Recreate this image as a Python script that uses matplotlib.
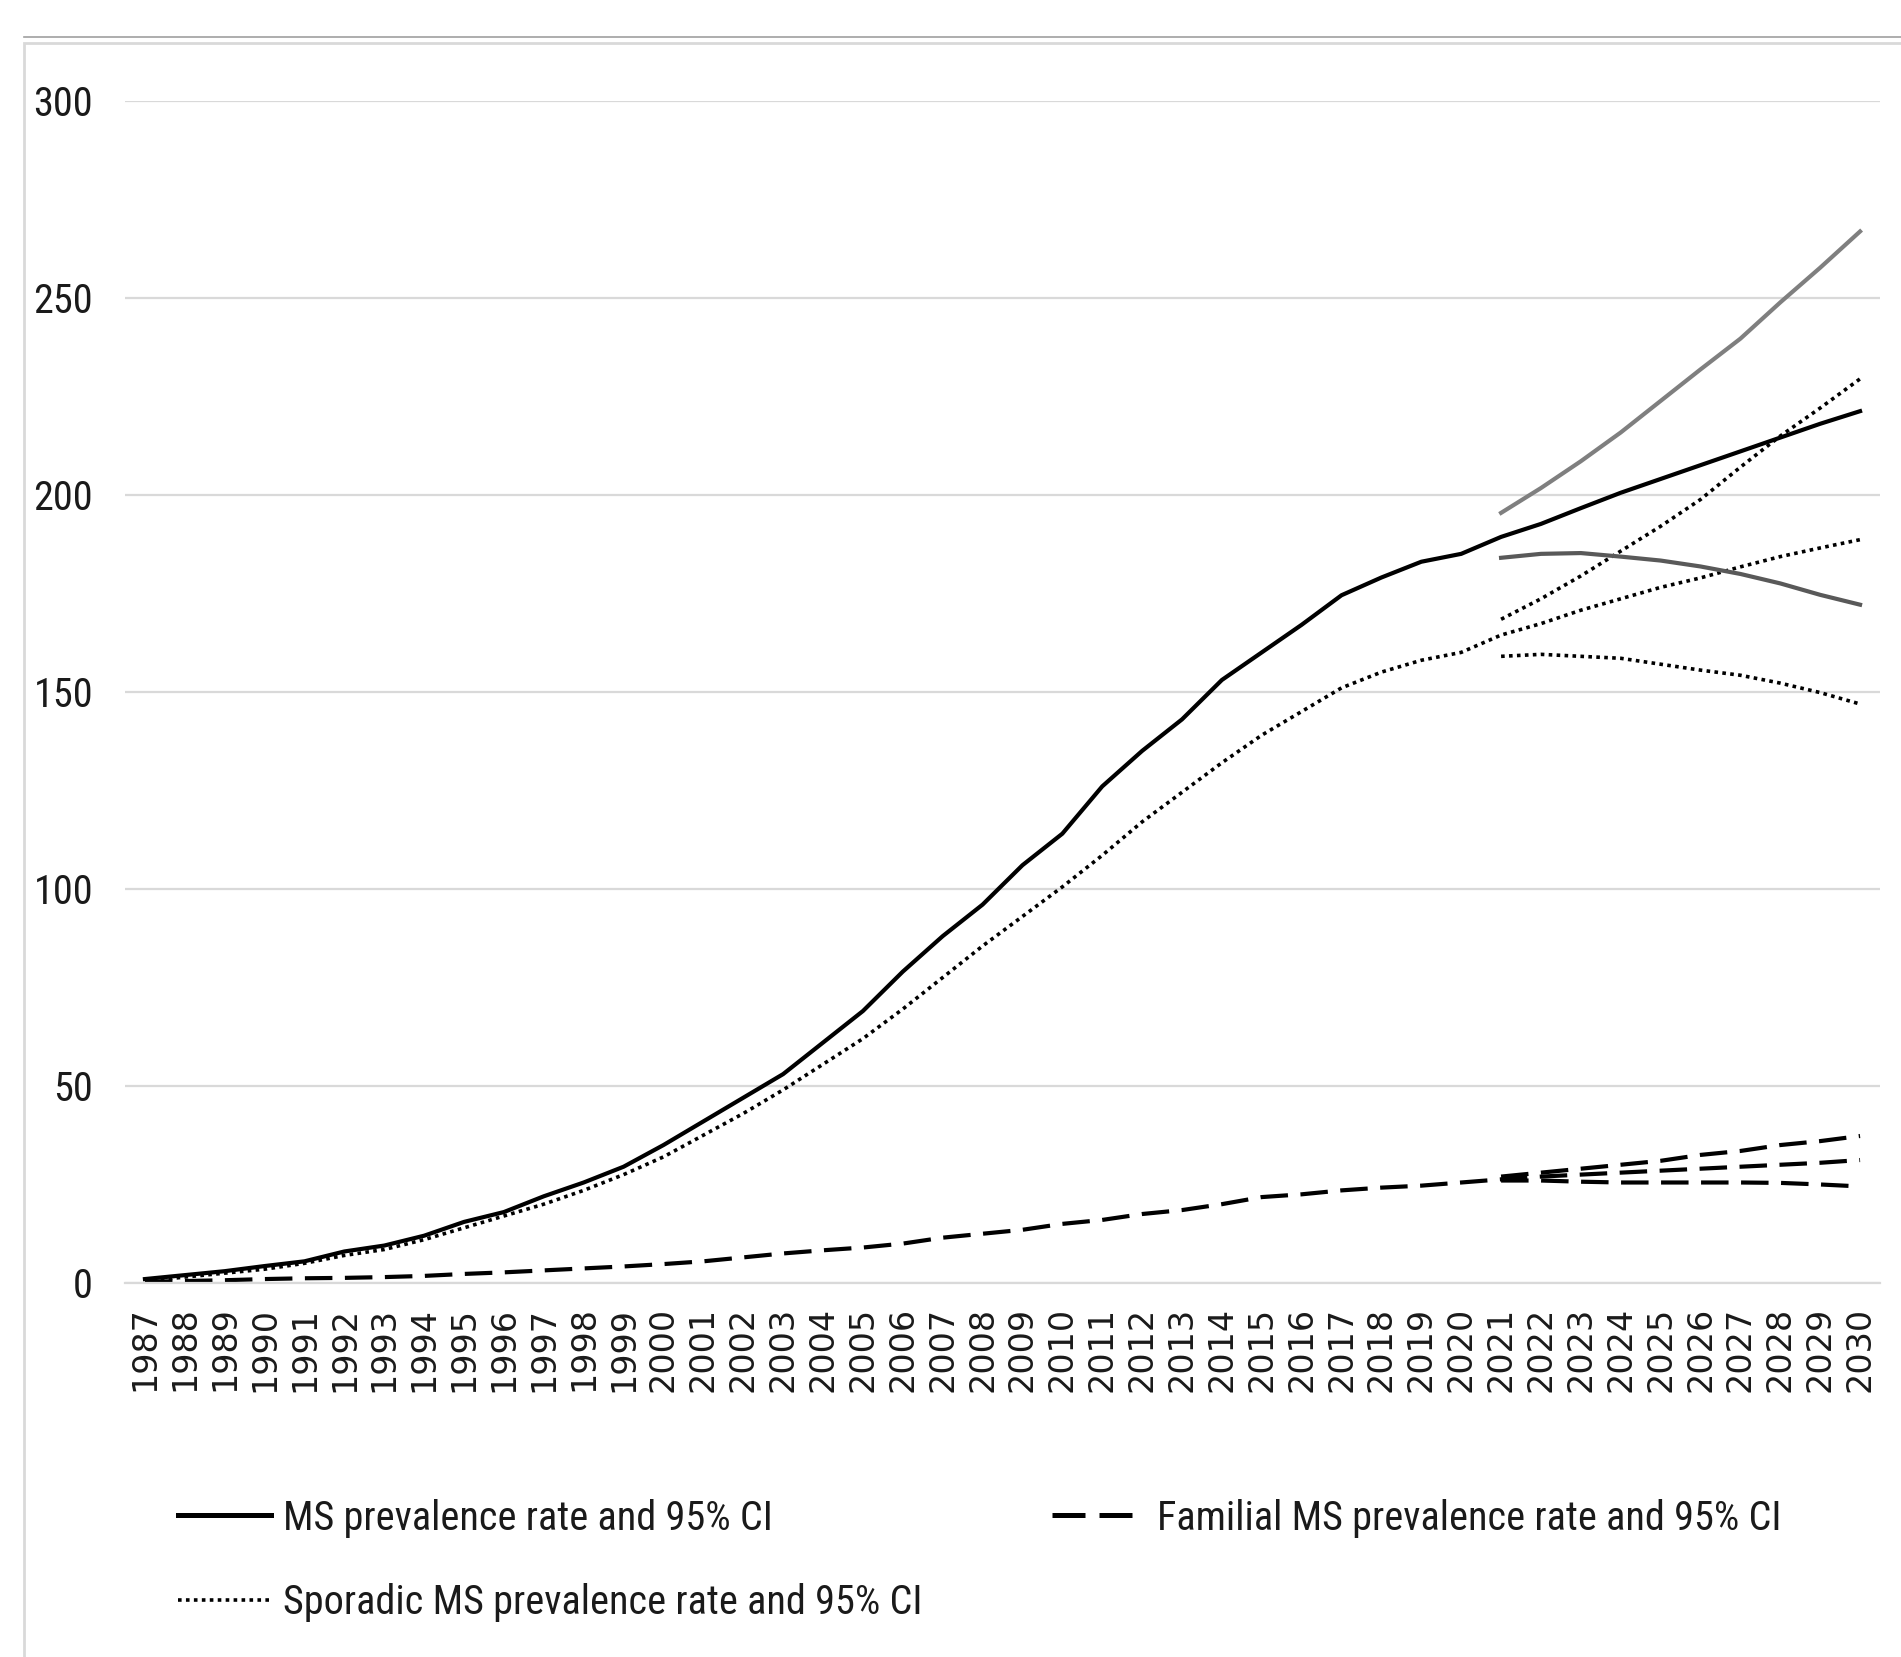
import matplotlib
matplotlib.use('Agg')
from matplotlib import pyplot as plt
from matplotlib import font_manager
from matplotlib.lines import Line2D
from matplotlib.patches import Rectangle

years = list(range(1987, 2031))
ci_years = list(range(2021, 2031))

# MS prevalence rate (per 100,000), observed 1987-2020 and projected 2021-2030
ms_rate = [1, 2, 3, 4.3, 5.5, 8, 9.5, 12, 15.5, 18, 22, 25.5, 29.5, 35, 41, 47,
           53, 61, 69, 79, 88, 96, 106, 114, 126, 135, 143, 153, 160, 167, 174.5,
           179, 183, 185, 189.3, 192.6, 196.6, 200.5, 204, 207.5, 211, 214.5, 218, 221.2]
ms_upper = [195.4, 201.7, 208.5, 215.8, 223.8, 231.8, 239.6, 248.8, 257.6, 266.8]
ms_lower = [184, 185, 185.2, 184.3, 183.3, 181.8, 179.9, 177.5, 174.6, 172.1]

familial_rate = [0.3, 0.5, 0.7, 1, 1.2, 1.3, 1.5, 1.8, 2.3, 2.7, 3.2, 3.7, 4.2, 4.8,
                 5.5, 6.5, 7.5, 8.3, 9, 10, 11.5, 12.5, 13.5, 15, 16, 17.5, 18.5, 20,
                 21.8, 22.5, 23.5, 24.2, 24.7, 25.5, 26.3, 27, 27.5, 28, 28.5, 29,
                 29.5, 30, 30.5, 31.2]
familial_upper = [27, 28, 29, 30, 31, 32.5, 33.5, 35, 36, 37.3]
familial_lower = [26, 26, 25.7, 25.5, 25.5, 25.5, 25.5, 25.4, 25, 24.5]

sporadic_rate = [0.5, 1.5, 2.5, 3.5, 5, 7, 8.5, 11, 14, 17, 20, 23.5, 27.5, 32,
                 37.5, 43, 49, 55.5, 62, 69.5, 77.5, 85.5, 93, 100.5, 108.5, 117,
                 124.5, 132, 139, 145, 151, 155, 158, 160, 164.4, 167.3, 170.7,
                 173.6, 176.5, 178.9, 181.7, 184.3, 186.5, 188.6]
sporadic_upper = [168.4, 173.6, 179.4, 185.7, 192, 198.8, 207, 214.9, 222, 229.4]
sporadic_lower = [159, 159.5, 159, 158.5, 157, 155.5, 154.2, 152.2, 149.8, 146.9]


# pick a condensed face for the labels if one is installed
def condensed_font():
    fonts = font_manager.fontManager.ttflist
    names = {f.name for f in fonts}
    for name in ['Liberation Sans Narrow', 'Roboto Condensed', 'Open Sans Condensed',
                 'Noto Sans Condensed', 'DejaVu Sans Condensed', 'Arial Narrow']:
        if name in names:
            return font_manager.FontProperties(family=name)
    for f in fonts:
        if str(f.stretch) in ('condensed', 'semi-condensed', 'extra-condensed') \
                and f.style == 'normal' and f.weight in (400, 'normal', 'regular'):
            return font_manager.FontProperties(fname=f.fname)
    return font_manager.FontProperties(family='DejaVu Sans', stretch='condensed')


W, H = 1901, 1657
fig = plt.figure(figsize=(W / 100, H / 100), dpi=100)

# outer chart frame
fig.add_artist(Rectangle((24 / W, -0.1), 2, 1.1 - 43 / H, transform=fig.transFigure,
                         fill=False, edgecolor='#d9d9d9', lw=2))
fig.add_artist(Line2D([24 / W, 1], [1 - 37 / H] * 2, color='#a0a0a0', lw=1.2))

ax = fig.add_axes([125 / W, 1 - 1283 / H, (1880 - 125) / W, (1283 - 100.6) / H])

dash = (0, (6.6, 3))
dot = (0, (1, 1.2))

ax.plot(years, familial_rate, color='black', lw=3, ls=dash)
ax.plot(ci_years, familial_upper, color='black', lw=3, ls=dash)
ax.plot(ci_years, familial_lower, color='black', lw=3, ls=dash)

ax.plot(years, sporadic_rate, color='black', lw=2.6, ls=dot)
ax.plot(ci_years, sporadic_upper, color='black', lw=2.6, ls=dot)
ax.plot(ci_years, sporadic_lower, color='black', lw=2.6, ls=dot)

ax.plot(ci_years, ms_upper, color='#7f7f7f', lw=3)
ax.plot(ci_years, ms_lower, color='#595959', lw=3)
ax.plot(years, ms_rate, color='black', lw=3)

ax.set_xlim(1986.5, 2030.5)
ax.set_ylim(0, 300)
ax.set_yticks(range(0, 301, 50))
ax.set_xticks(years)
ax.set_xticklabels([str(y) for y in years], rotation=90, fontsize=24,
                   family='DejaVu Sans', color='#1a1a1a')

label_font = condensed_font()
ytick_font = label_font.copy()
ytick_font.set_size(29)
for lab in ax.get_yticklabels():
    lab.set_fontproperties(ytick_font)
    lab.set_color('#1a1a1a')
ax.tick_params(axis='both', length=0)
ax.tick_params(axis='y', pad=23)
ax.tick_params(axis='x', pad=17)
ax.grid(axis='y', color='#d9d9d9', lw=1.6)
ax.set_axisbelow(True)
for s in ['top', 'right', 'left']:
    ax.spines[s].set_visible(False)
ax.spines['bottom'].set_color('#d9d9d9')
ax.spines['bottom'].set_linewidth(1.6)

# legend entries below the plot
legend_font = label_font.copy()
legend_font.set_size(29)
entries = [
    (Line2D([], [], color='black', lw=3.6), 'MS prevalence rate and 95% CI', 178, 1518),
    (Line2D([], [], color='black', lw=3.6, ls=(0, (6.6, 2.8))), 'Familial MS prevalence rate and 95% CI', 1052, 1518),
    (Line2D([], [], color='black', lw=2.6, ls=dot), 'Sporadic MS prevalence rate and 95% CI', 178, 1603),
]
for handle, text, px, py in entries:
    leg = fig.legend([handle], [text], loc='center left', bbox_to_anchor=(px / W, 1 - py / H),
                     frameon=False, borderpad=0, borderaxespad=0, handlelength=2.3,
                     handletextpad=0.3, prop=legend_font)
    for t in leg.get_texts():
        t.set_color('#1a1a1a')

fig.savefig('out.png', dpi=100)
